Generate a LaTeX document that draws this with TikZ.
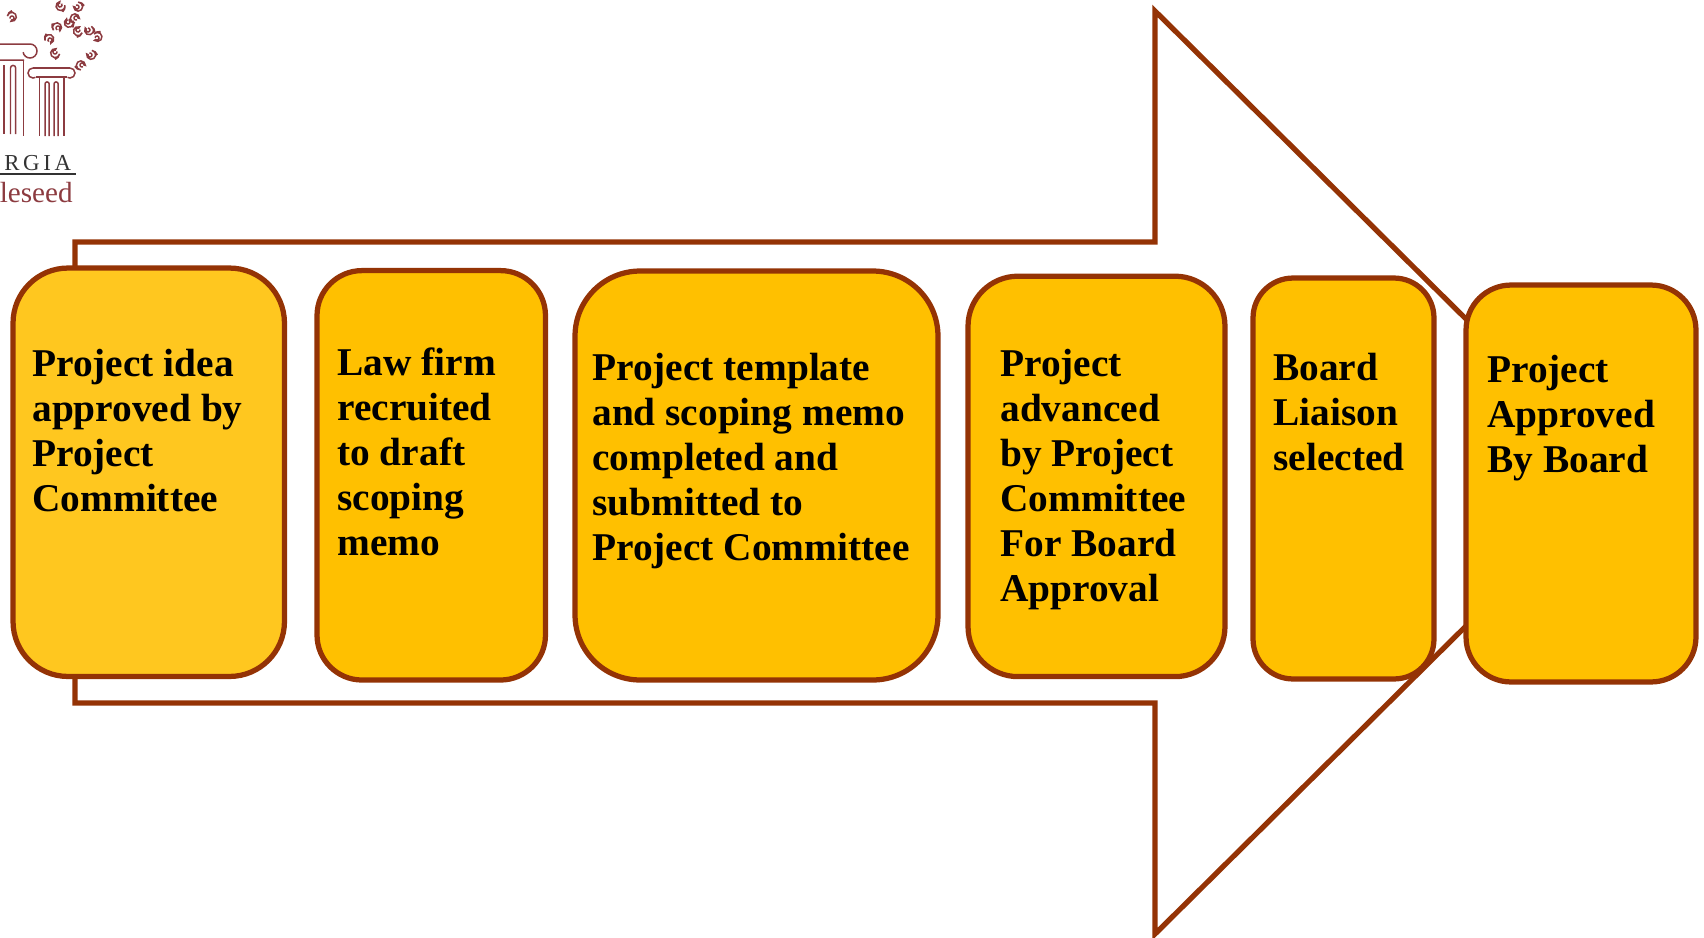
\documentclass[tikz,border=0pt]{standalone}
\usepackage{fontspec}
\setmainfont{Liberation Serif}
\newfontfamily\logofont[LetterSpace=16]{Liberation Serif}
\definecolor{rust}{HTML}{943305}
\definecolor{amber}{HTML}{FFC000}
\definecolor{amberlight}{HTML}{FFC71F}
\definecolor{logored}{HTML}{8C3B40}
\definecolor{logogrey}{HTML}{333333}
\begin{document}
\begin{tikzpicture}[x=0.02cm,y=-0.02cm]
	\tikzstyle{outline}=[draw=rust,line width=0.105cm,miter limit=10]
	\tikzstyle{stage}=[outline,fill=amber,inner sep=0pt]
	\tikzstyle{stagetext}=[anchor=base west,inner sep=0pt,align=left,font=\fontsize{22.4}{25.6}\selectfont\bfseries]
	\tikzstyle{logoline}=[draw=logored,line width=0.03cm]
	\useasboundingbox (0,0) rectangle (1704,937);

	\begin{scope}
		\clip (0,0) rectangle (110,215);
		\draw[logoline] (0,44) -- (30,44) arc (-90:170:7) (0,60) -- (24,60);
		\draw[logoline] (23.5,60) -- (23.5,136) (4,65) -- (4,134);
		\draw[logoline] (10.5,134) -- (10.5,68) arc (180:360:2.6) -- (15.7,134);
		\draw[logoline] (33,68) -- (70,68) (36,77) -- (67,77);
		\draw[logoline] (33,68) arc (-90:-300:5) (70,68) arc (-90:120:5);
		\draw[logoline] (39.3,77) -- (39.3,136) (64,77) -- (64,136);
		\foreach \flute in {45,54}
			\draw[logoline] (\flute,136) -- (\flute,84) arc (180:360:2.1) -- ++(0,52);
		\foreach \curlx/\curly/\curlturn in {12/18/200,60/5/40,77/7/120,58/28/250,68/22/60,76/18/300,78/30/10,88/30/90,97/38/170,50/40/230,55/52/20,90/55/110,82/65/300}
			\draw[logoline,rotate around={\curlturn:(\curlx,\curly)}] (\curlx,\curly) ++(2,0) arc (0:300:2) -- ++(1,-1) arc (-60:-330:4.5) arc (30:90:7);
		\node[anchor=base west,inner sep=0pt,text=logogrey,font=\logofont\fontsize{13}{14}\selectfont] (logotop) at (4,170) {RGIA};
		\draw[logogrey,line width=0.03cm] (0,174) -- (76,174);
		\node[anchor=base east,inner sep=0pt,text=logored,font=\fontsize{16.6}{20}\selectfont] (logoname) at (73,202.7) {leseed};
	\end{scope}

	\draw[outline] (75,242) -- (1155,242) -- (1155,11) -- (1621,472.5) -- (1155,934) -- (1155,703) -- (75,703) -- cycle;

	\node[stage,fill=amberlight,rounded corners=1.1cm,minimum width=5.43cm,minimum height=8.17cm] 	(idea) at (148.75,472.25) {};
	\node[stage,rounded corners=0.9cm,minimum width=4.57cm,minimum height=8.19cm] 	(firm) at (431.25,475.3) {};
	\node[stage,rounded corners=1.3cm,minimum width=7.26cm,minimum height=8.18cm] 	(template) at (756.5,475.5) {};
	\node[stage,rounded corners=1cm,minimum width=5.14cm,minimum height=8.01cm] 	(advanced) at (1096.5,476.4) {};
	\node[stage,rounded corners=0.8cm,minimum width=3.62cm,minimum height=8.02cm] 	(liaison) at (1343.5,478.5) {};
	\node[stage,rounded corners=0.9cm,minimum width=4.6cm,minimum height=7.94cm] 	(approved) at (1581,483.5) {};

	\node[stagetext] (ideatext) at (32,511) {Project idea\\approved by\\Project\\Committee};
	\node[stagetext] (firmtext) at (337,555.5) {Law firm\\recruited\\to draft\\scoping\\memo};
	\node[stagetext] (templatetext) at (592,560) {Project template\\and scoping memo\\completed and\\submitted to\\Project Committee};
	\node[stagetext] (advancedtext) at (1000,601) {Project\\advanced\\by Project\\Committee\\For Board\\Approval};
	\node[stagetext] (liaisontext) at (1273,470.5) {Board\\Liaison\\selected};
	\node[stagetext] (approvedtext) at (1487,472) {Project\\Approved\\By Board};
\end{tikzpicture}
\end{document}
